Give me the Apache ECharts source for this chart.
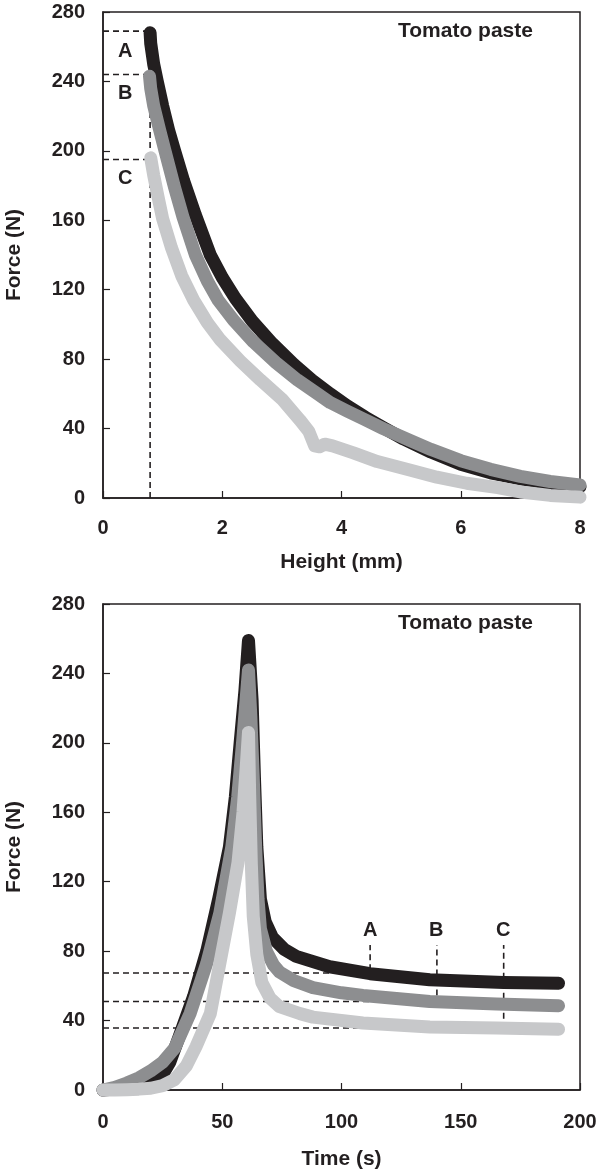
<!DOCTYPE html>
<html>
<head>
<meta charset="utf-8">
<script src="https://cdn.jsdelivr.net/npm/echarts@6/dist/echarts.min.js"></script>
<style>
  html, body { margin: 0; padding: 0; background: #fff; }
  #main { width: 596px; height: 1176px; }
</style>
</head>
<body>
<div id="main"></div>
<script>
// 上图：力 vs 高度 (mm)
var heightBlack = [[0.79,268],[0.8,262],[0.85,250],[0.91,240],[1.0,226],[1.1,212],[1.21,199],[1.35,183],[1.55,163],[1.8,140],[2.0,127],[2.22,115],[2.5,102],[2.84,89],[3.2,77],[3.5,68],[3.81,60],[4.1,53],[4.4,46.5],[4.7,40.5],[5.04,34],[5.5,26.5],[6.0,19.5],[6.5,14.5],[7.0,11],[7.5,8.5],[8.0,6.5]];
var heightGray = [[0.78,243],[0.8,236],[0.85,226],[0.95,212],[1.04,200],[1.2,179],[1.34,162],[1.55,140],[1.75,125],[1.93,114],[2.2,102],[2.52,90],[2.9,78],[3.26,68],[3.6,60],[3.81,55],[4.1,50],[4.37,45.5],[4.7,40],[5.16,33],[5.5,28],[6.0,21.5],[6.5,16.5],[7.0,12.5],[7.5,9.5],[8.0,7.5]];
var heightLight = [[0.8,196],[0.85,186],[0.92,174],[1.0,161],[1.15,144],[1.32,128],[1.52,114],[1.75,101],[1.97,91],[2.3,79],[2.64,68],[3.0,57],[3.3,45],[3.45,38.5],[3.55,30],[3.63,29.5],[3.72,31],[3.85,30],[4.2,26],[4.6,21],[5.16,16],[5.6,12],[6.1,8.5],[6.62,6],[7.0,3.5],[7.5,1.5],[8.0,0.5]];

// 下图：力 vs 时间 (s)
var timeBlack = [[0,0],[5,0.5],[10,1.5],[15,2.5],[20,4],[25,9],[28,16],[32,31],[38,54],[43.5,80],[48.5,110],[53,140],[55.5,169],[57.5,200],[59.5,230],[61,259],[62.5,225],[63.5,180],[64.5,140],[66,110],[68,97],[71,88],[76,81],[81,77],[95,71],[112,67],[137,63.5],[168,62],[191,61.5]];
var timeGray = [[0,0],[5,1.5],[10,4],[15,7],[20,11],[25,16],[30,24],[36.5,44],[43.5,73],[49,102],[54,140],[56.5,169],[58.5,200],[60,225],[61,242],[62,215],[63,180],[64,140],[65,110],[66,93],[68.5,80],[71.5,72],[74,68],[80,63],[88,59],[100,56],[109,54.5],[137,51],[165,49.5],[191,48.5]];
var timeLight = [[0,0],[5,0],[10,0.2],[15,0.5],[20,1],[25,2.5],[30,6],[35,14],[39,25],[45,44],[49,73],[53,102],[56.6,131],[58.7,160],[60,185],[61,206],[61.5,170],[62.2,130],[63,100],[64.5,78],[66.6,62],[70,53],[74,48],[82.6,44],[88,42],[109,38.6],[137,36.3],[165,35.7],[191,35]];

// 虚线标注
var hGuideA = [[0,269],[0.72,269]];
var hGuideB = [[0,244],[0.79,244]];
var hGuideC = [[0,195],[0.79,195]];
var hGuideV = [[0.79,0],[0.79,244]];
var tGuideA = [[0,67.4],[112,67.4],[112,83.5]];
var tGuideB = [[0,51],[140,51],[140,83.5]];
var tGuideC = [[0,35.7],[168,35.7],[168,83.5]];

var yTicks = [0, 280, 40];
var heightTicks = [0, 8, 2];
var timeTicks = [0, 200, 50];

var ink = '#231f20';
var colors = ['#231f20', '#8d8e90', '#c7c8ca'];
var font = 'Liberation Sans, Arial, Helvetica, sans-serif';

function curve(name, data, color, idx) {
  return {
    name: name, type: 'line', data: data,
    xAxisIndex: idx, yAxisIndex: idx,
    showSymbol: false, symbol: 'none', clip: false, z: 3,
    lineStyle: { color: color, width: 13, cap: 'round', join: 'round' },
    animation: false
  };
}
function guide(data, idx) {
  return {
    type: 'line', data: data,
    xAxisIndex: idx, yAxisIndex: idx,
    showSymbol: false, symbol: 'none', clip: false, z: 2,
    lineStyle: { color: ink, width: 1.6, type: [6, 4] },
    animation: false
  };
}
function xAxis(idx, t, name, gap, margin) {
  return {
    type: 'value', gridIndex: idx, min: t[0], max: t[1], interval: t[2],
    name: name, nameLocation: 'middle', nameGap: gap,
    nameTextStyle: { fontFamily: font, fontWeight: 'bold', fontSize: 21, color: ink },
    axisLine: { show: true, onZero: false, lineStyle: { color: ink, width: 1.5 } },
    axisTick: { show: true, inside: true, length: 7, lineStyle: { color: ink, width: 1.2 } },
    axisLabel: { fontFamily: font, fontWeight: 'bold', fontSize: 20, color: ink, margin: margin },
    splitLine: { show: false }
  };
}
function yAxis(idx) {
  return {
    type: 'value', gridIndex: idx, min: yTicks[0], max: yTicks[1], interval: yTicks[2],
    name: 'Force (N)', nameLocation: 'middle', nameGap: 78, nameRotate: 90,
    nameTextStyle: { fontFamily: font, fontWeight: 'bold', fontSize: 21, color: ink },
    axisLine: { show: true, lineStyle: { color: ink, width: 1.5 } },
    axisTick: { show: true, inside: true, length: 7, lineStyle: { color: ink, width: 1.2 } },
    axisLabel: { fontFamily: font, fontWeight: 'bold', fontSize: 20, color: ink, margin: 18 },
    splitLine: { show: false }
  };
}
function txt(x, y, s, size) {
  return { type: 'text', left: x, top: y, z: 10,
    style: { text: s, fontFamily: font, fontWeight: 'bold', fontSize: size || 21, fill: ink } };
}

var chart = echarts.init(document.getElementById('main'));
chart.setOption({
  backgroundColor: '#fff',
  animation: false,
  grid: [
    { left: 103, top: 12, width: 477, height: 486, outerBoundsMode: 'none', containLabel: false,
      show: true, borderColor: ink, borderWidth: 1.5, backgroundColor: 'transparent' },
    { left: 103, top: 604, width: 477, height: 486, outerBoundsMode: 'none', containLabel: false,
      show: true, borderColor: ink, borderWidth: 1.5, backgroundColor: 'transparent' }
  ],
  xAxis: [
    xAxis(0, heightTicks, 'Height (mm)', 54, 20),
    xAxis(1, timeTicks, 'Time (s)', 59, 22)
  ],
  yAxis: [yAxis(0), yAxis(1)],
  graphic: [
    txt(398, 21, 'Tomato paste'),
    txt(118, 41, 'A', 20), txt(118, 83, 'B', 20), txt(118, 168, 'C', 20),
    txt(398, 613, 'Tomato paste'),
    txt(363, 920, 'A', 20), txt(429, 920, 'B', 20), txt(496, 920, 'C', 20)
  ],
  series: [
    guide(hGuideA, 0), guide(hGuideB, 0), guide(hGuideC, 0), guide(hGuideV, 0),
    curve('A', heightBlack, colors[0], 0),
    curve('B', heightGray, colors[1], 0),
    curve('C', heightLight, colors[2], 0),
    guide(tGuideA, 1), guide(tGuideB, 1), guide(tGuideC, 1),
    curve('A', timeBlack, colors[0], 1),
    curve('B', timeGray, colors[1], 1),
    curve('C', timeLight, colors[2], 1)
  ]
});
</script>
</body>
</html>
